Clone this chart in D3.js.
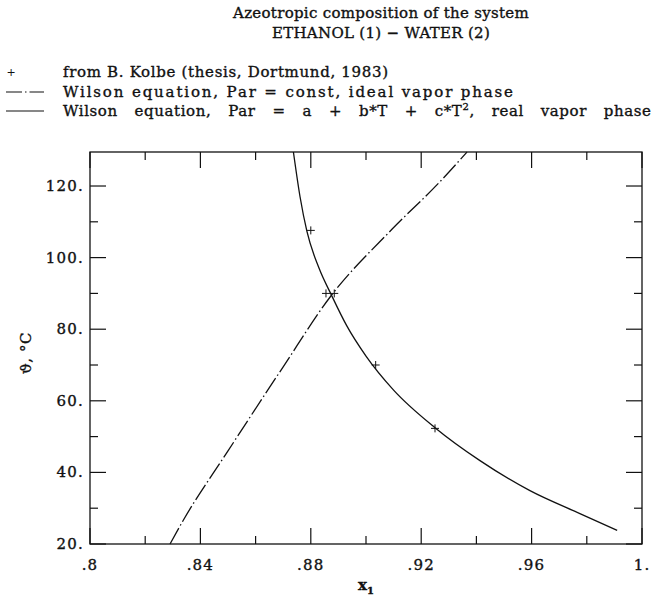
<!DOCTYPE html>
<html>
<head>
<meta charset="utf-8">
<script src="https://cdn.jsdelivr.net/npm/d3@7"></script>
<style>
  body { margin: 0; background: #fff; }
  text { font-family: "DejaVu Serif", serif; fill: #111; stroke: #111; stroke-width: 0.35px; }
</style>
</head>
<body>
<div id="chart"></div>
<script>
'use strict';

// Tick values and labels
const xMajor = [0.8, 0.84, 0.88, 0.92, 0.96, 1.0];
const xMajorLabels = ['.8', '.84', '.88', '.92', '.96', '1.'];
const xMinor = [0.82, 0.86, 0.90, 0.94, 0.98];
const yMajor = [20, 40, 60, 80, 100, 120];
const yMajorLabels = ['20.', '40.', '60.', '80.', '100.', '120.'];
const yMinor = [30, 50, 70, 90, 110];

// Experimental points (B. Kolbe)
const kolbeX = [0.880, 0.8855, 0.8885, 0.9035, 0.9250];
const kolbeT = [107.6, 90.0, 90.0, 70.0, 52.3];

// Wilson equation, Par = a + b*T + c*T^2, real vapor phase
const realX = [0.8737, 0.8761, 0.8786, 0.8830, 0.8875, 0.8930, 0.9000, 0.9100, 0.9250, 0.9413, 0.9594, 0.9775, 0.9910];
const realT = [129.5, 117.0, 107.3, 97.0, 89.5, 81.0, 72.5, 63.0, 52.5, 43.3, 34.9, 28.5, 23.8];

// Wilson equation, Par = const, ideal vapor phase
const idealX = [0.8290, 0.8337, 0.8500, 0.8700, 0.8870, 0.9094, 0.9268, 0.9366];
const idealT = [20.0, 26.5, 46.0, 69.5, 89.0, 107.9, 121.2, 129.5];

const settings = {
    width: 660,
    height: 599,
    left: 90,
    right: 642,
    top: 152,
    bottom: 544
};

const svg = d3.select('#chart')
    .append('svg')
    .attr('width', settings.width)
    .attr('height', settings.height);

const x = d3.scaleLinear().domain([0.8, 1.0]).range([settings.left, settings.right]);
const y = d3.scaleLinear().domain([20, 129.5]).range([settings.bottom, settings.top]);

// Title
svg.append('text')
    .attr('x', 381).attr('y', 18)
    .attr('text-anchor', 'middle')
    .attr('font-size', 15)
    .attr('letter-spacing', 0.3)
    .text('Azeotropic composition of the system');
svg.append('text')
    .attr('x', 381).attr('y', 38)
    .attr('text-anchor', 'middle')
    .attr('font-size', 15)
    .attr('letter-spacing', 0.3)
    .text('ETHANOL (1) \u2212 WATER (2)');

// Legend
const legend = svg.append('g').attr('id', 'legend');
const legendRows = [77, 97, 116];
legend.append('text')
    .attr('x', 11).attr('y', legendRows[0] - 1)
    .attr('text-anchor', 'middle')
    .attr('font-size', 11)
    .style('stroke-width', 0)
    .text('+');
legend.append('line')
    .attr('x1', 6).attr('x2', 44)
    .attr('y1', legendRows[1] - 5).attr('y2', legendRows[1] - 5)
    .attr('stroke', '#111').attr('stroke-width', 1.2)
    .attr('stroke-dasharray', '16,3,1.5,3');
legend.append('line')
    .attr('x1', 6).attr('x2', 44)
    .attr('y1', legendRows[2] - 5).attr('y2', legendRows[2] - 5)
    .attr('stroke', '#111').attr('stroke-width', 1.2);

const legendTexts = [
    'from B. Kolbe (thesis, Dortmund, 1983)',
    'Wilson equation, Par = const, ideal vapor phase'
];
const legendWidths = [325, 450];
legendTexts.forEach((t, i) => {
    legend.append('text')
        .attr('x', 63).attr('y', legendRows[i])
        .attr('font-size', 15)
        .attr('textLength', legendWidths[i])
        .attr('lengthAdjust', 'spacing')
        .text(t);
});
const last = legend.append('text')
    .attr('x', 63).attr('y', legendRows[2])
    .attr('font-size', 15)
    .attr('word-spacing', 11.5)
    .attr('letter-spacing', 0.6);
last.append('tspan').text('Wilson equation, Par = a + b*T + c*T');
last.append('tspan').attr('dy', -6).attr('font-size', 10).text('2');
last.append('tspan').attr('dy', 6).text(', real vapor phase');

// Frame
svg.append('rect')
    .attr('x', settings.left).attr('y', settings.top)
    .attr('width', settings.right - settings.left)
    .attr('height', settings.bottom - settings.top)
    .attr('fill', 'none')
    .attr('stroke', '#111').attr('stroke-width', 1.3);

// Ticks pointing inward on all four sides
const ticks = svg.append('g').attr('stroke', '#111').attr('stroke-width', 1.2);
const majorLen = 16, minorLen = 8;
xMajor.concat(xMinor).forEach(v => {
    const len = xMajor.includes(v) ? majorLen : minorLen;
    ticks.append('line').attr('x1', x(v)).attr('x2', x(v))
        .attr('y1', settings.bottom).attr('y2', settings.bottom - len);
    ticks.append('line').attr('x1', x(v)).attr('x2', x(v))
        .attr('y1', settings.top).attr('y2', settings.top + len);
});
yMajor.concat(yMinor).forEach(v => {
    const len = yMajor.includes(v) ? majorLen : minorLen;
    ticks.append('line').attr('y1', y(v)).attr('y2', y(v))
        .attr('x1', settings.left).attr('x2', settings.left + len);
    ticks.append('line').attr('y1', y(v)).attr('y2', y(v))
        .attr('x1', settings.right).attr('x2', settings.right - len);
});

// Tick labels
svg.append('g').selectAll('text')
    .data(xMajor)
    .join('text')
    .attr('x', d => x(d))
    .attr('y', settings.bottom + 26)
    .attr('text-anchor', 'middle')
    .attr('font-size', 15)
    .attr('letter-spacing', 1.2)
    .text((d, i) => xMajorLabels[i]);

svg.append('g').selectAll('text')
    .data(yMajor)
    .join('text')
    .attr('x', settings.left - 6)
    .attr('y', d => y(d) + 5)
    .attr('text-anchor', 'end')
    .attr('font-size', 15)
    .attr('letter-spacing', 1.2)
    .text((d, i) => yMajorLabels[i]);

// Axis titles
const xt = svg.append('text')
    .attr('x', 366).attr('y', 590)
    .attr('text-anchor', 'middle')
    .attr('font-size', 15)
    .attr('font-weight', 'bold');
xt.append('tspan').text('x');
xt.append('tspan').attr('dy', 4).attr('font-size', 10).text('1');

svg.append('text')
    .attr('transform', 'translate(31,353) rotate(-90)')
    .attr('text-anchor', 'middle')
    .attr('font-size', 15)
    .attr('letter-spacing', 0.5)
    .text('\u03d1, \u00b0C');

// Curves
const line = d3.line()
    .x(d => x(d[0]))
    .y(d => y(d[1]))
    .curve(d3.curveMonotoneX);

const plot = svg.append('g');

plot.append('path')
    .datum(realX.map((v, i) => [v, realT[i]]))
    .attr('d', line)
    .attr('fill', 'none')
    .attr('stroke', '#111')
    .attr('stroke-width', 1.3);

plot.append('path')
    .datum(idealX.map((v, i) => [v, idealT[i]]))
    .attr('d', line)
    .attr('fill', 'none')
    .attr('stroke', '#111')
    .attr('stroke-width', 1.3)
    .attr('stroke-dasharray', '18,3,1.5,3');

// Data points as small plus signs
plot.selectAll('.pt')
    .data(kolbeX.map((v, i) => [v, kolbeT[i]]))
    .join('path')
    .attr('class', 'pt')
    .attr('d', d => `M${x(d[0]) - 4},${y(d[1])}h8M${x(d[0])},${y(d[1]) - 4}v8`)
    .attr('stroke', '#111')
    .attr('stroke-width', 1);
</script>
</body>
</html>
